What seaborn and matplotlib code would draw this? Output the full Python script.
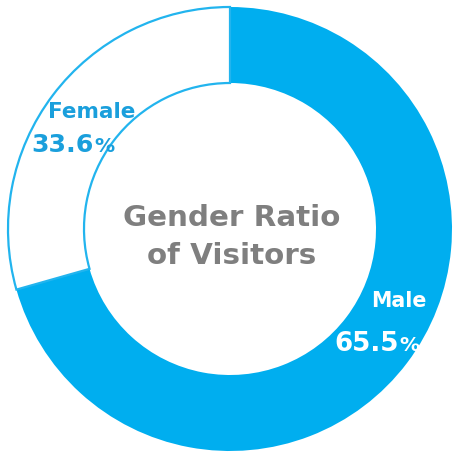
import matplotlib
matplotlib.use("Agg")
import matplotlib.pyplot as plt
import seaborn as sns

# Data
categories = ["Male", "Female"]
pct_numbers = ["65.5", "33.6"]
pct_sign = "%"
# wedge shares as drawn in the reference picture
wedge_shares = [70.6, 29.4]

sns.set_theme(style="white")
plt.rcParams["font.family"] = ["DejaVu Sans"]

W, H = 453, 455
fig = plt.figure(figsize=(W / 100, H / 100), dpi=100)
ax = fig.add_axes([0, 0, 1, 1])

blue = "#00AEEF"
cx, cy, R = 230, H - 229, 222
wedges, _ = ax.pie(
    wedge_shares,
    startangle=90,
    counterclock=False,
    center=(cx, cy),
    radius=R,
    colors=[blue, "white"],
    wedgeprops=dict(width=76, linewidth=0),
    frame=True,
)
wedges[1].set_edgecolor("#22B4EE")
wedges[1].set_linewidth(1.6)
ax.set_xlim(0, W)
ax.set_ylim(0, H)
ax.set_aspect("equal")
ax.axis("off")

def px(x, y):
    return x, H - y

gray = "#7F7F7F"
ax.text(*px(232, 226), "Gender Ratio", ha="center", va="baseline",
        fontsize=21.2, fontweight="bold", color=gray)
ax.text(*px(232, 264), "of Visitors", ha="center", va="baseline",
        fontsize=21.2, fontweight="bold", color=gray)

fcol = "#1A9FDC"
ax.text(*px(48, 118), categories[1], ha="left", va="baseline",
        fontsize=15.5, fontweight="bold", color=fcol)
t_f = ax.text(*px(31, 152), pct_numbers[1], ha="left", va="baseline",
              fontsize=18.2, fontweight="bold", color=fcol)

ax.text(*px(371, 307), categories[0], ha="left", va="baseline",
        fontsize=14.8, fontweight="bold", color="white")
t_m = ax.text(*px(334, 351), pct_numbers[0], ha="left", va="baseline",
              fontsize=18.8, fontweight="bold", color="white")

fig.canvas.draw()
r = fig.canvas.get_renderer()
inv = ax.transData.inverted()
for t, col in ((t_f, fcol), (t_m, "white")):
    bb = t.get_window_extent(renderer=r)
    x_right = inv.transform((bb.x1 + 1, 0))[0]
    ax.text(x_right, t.get_position()[1], pct_sign, ha="left", va="baseline",
            fontsize=14.5, fontweight="bold", color=col)

fig.savefig("out.png", dpi=100, facecolor="white")
